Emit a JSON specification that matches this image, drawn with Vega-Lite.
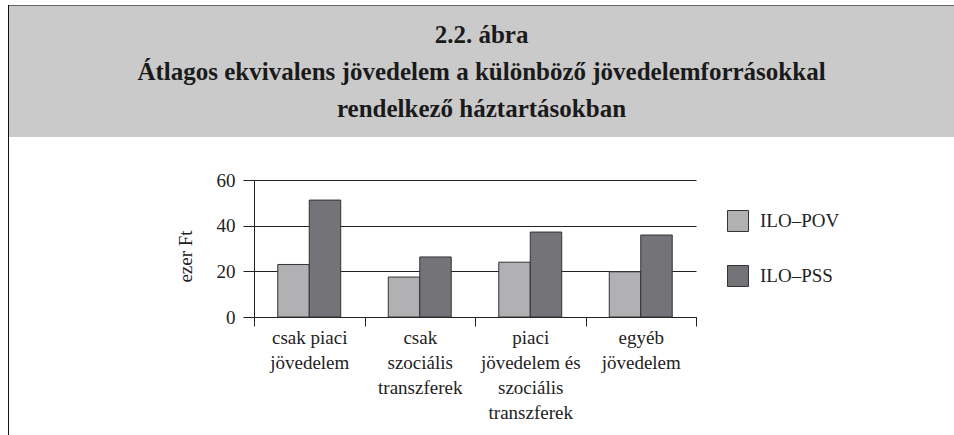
{
  "$schema": "https://vega.github.io/schema/vega-lite/v6.json",
  "padding": {"left": 8, "top": 5, "right": 0, "bottom": 0},
  "background": "#ffffff",
  "config": {
    "view": {"stroke": null},
    "font": "Liberation Serif",
    "concat": {"spacing": 0}
  },
  "spacing": 0,
  "hconcat": [
    {
      "width": 1,
      "height": 430,
      "data": {"values": []},
      "mark": "point",
      "view": {"fill": "#111111", "stroke": null}
    },
    {
      "spacing": 34,
      "vconcat": [
        {
          "spacing": 0,
          "vconcat": [
            {
              "width": 945,
              "height": 1,
              "data": {"values": []},
              "mark": "point",
              "view": {"fill": "#666666", "stroke": null}
            },
            {
              "width": 945,
              "height": 131,
              "view": {"fill": "#cacaca", "stroke": null},
              "data": {
                "values": [
                  {"sor": 1, "szoveg": "2.2. ábra"},
                  {"sor": 2, "szoveg": "Átlagos ekvivalens jövedelem a különböző jövedelemforrásokkal"},
                  {"sor": 3, "szoveg": "rendelkező háztartásokban"}
                ]
              },
              "mark": {"type": "text", "font": "Liberation Serif", "fontWeight": "bold", "fontSize": 25, "color": "#1a1a1a", "baseline": "alphabetic", "align": "center"},
              "encoding": {
                "y": {"field": "sor", "type": "ordinal", "axis": null, "scale": {"type": "point", "padding": 0.77, "align": 0.644}},
                "text": {"field": "szoveg", "type": "nominal"}
              }
            }
          ]
        },
        {
          "spacing": 0,
          "resolve": {"legend": {"color": "independent"}},
          "hconcat": [
            {
              "width": 167,
              "height": 10,
              "data": {"values": []},
              "mark": "point",
              "view": {"stroke": null}
            },
            {
              "width": 442,
              "height": 137,
              "data": {
                "values": [
                  {"kategoria": "csak piaci\njövedelem", "sorozat": "ILO–POV", "ertek": 23.0},
                  {"kategoria": "csak piaci\njövedelem", "sorozat": "ILO–PSS", "ertek": 51.2},
                  {"kategoria": "csak\nszociális\ntranszferek", "sorozat": "ILO–POV", "ertek": 17.5},
                  {"kategoria": "csak\nszociális\ntranszferek", "sorozat": "ILO–PSS", "ertek": 26.3},
                  {"kategoria": "piaci\njövedelem és\nszociális\ntranszferek", "sorozat": "ILO–POV", "ertek": 24.0},
                  {"kategoria": "piaci\njövedelem és\nszociális\ntranszferek", "sorozat": "ILO–PSS", "ertek": 37.2},
                  {"kategoria": "egyéb\njövedelem", "sorozat": "ILO–POV", "ertek": 19.8},
                  {"kategoria": "egyéb\njövedelem", "sorozat": "ILO–PSS", "ertek": 35.9}
                ]
              },
              "mark": {"type": "bar", "stroke": "#333333", "strokeWidth": 1},
              "encoding": {
                "x": {
                  "field": "kategoria",
                  "type": "nominal",
                  "sort": null,
                  "scale": {"paddingInner": 0, "paddingOuter": 0},
                  "axis": {
                    "title": null,
                    "labelAngle": 0,
                    "labelExpr": "split(datum.label, '\\n')",
                    "tickBand": "extent",
                    "tickSize": 9,
                    "labelPadding": 2,
                    "labelFont": "Liberation Serif",
                    "labelFontSize": 19,
                    "labelLineHeight": 25,
                    "labelBaseline": "top",
                    "labelOverlap": false,
                    "labelColor": "#222222",
                    "domainColor": "#222222",
                    "tickColor": "#222222"
                  }
                },
                "xOffset": {
                  "field": "sorozat",
                  "type": "nominal",
                  "sort": ["ILO–POV", "ILO–PSS"],
                  "scale": {"paddingInner": 0, "paddingOuter": 0.755}
                },
                "y": {
                  "field": "ertek",
                  "type": "quantitative",
                  "scale": {"domain": [0, 60]},
                  "axis": {
                    "values": [0, 20, 40, 60],
                    "title": "ezer Ft",
                    "titleFont": "Liberation Serif",
                    "titleFontSize": 19,
                    "titleFontWeight": "normal",
                    "titleColor": "#222222",
                    "titlePadding": 21,
                    "titleY": 76,
                    "grid": true,
                    "gridColor": "#222222",
                    "gridOpacity": 1,
                    "domainColor": "#222222",
                    "tickColor": "#222222",
                    "tickSize": 11,
                    "labelPadding": 8,
                    "labelFont": "Liberation Serif",
                    "labelFontSize": 19,
                    "labelColor": "#222222"
                  }
                },
                "color": {
                  "field": "sorozat",
                  "type": "nominal",
                  "sort": ["ILO–POV", "ILO–PSS"],
                  "scale": {"range": ["#b1b1b4", "#747478"]},
                  "legend": {
                    "title": null,
                    "orient": "right",
                    "offset": 1,
                    "padding": 30,
                    "rowPadding": 29,
                    "symbolType": "square",
                    "symbolSize": 440,
                    "symbolStrokeColor": "#333333",
                    "symbolStrokeWidth": 1,
                    "labelFont": "Liberation Serif",
                    "labelFontSize": 19,
                    "labelOffset": 11,
                    "labelColor": "#222222"
                  }
                }
              }
            }
          ]
        }
      ]
    }
  ]
}
